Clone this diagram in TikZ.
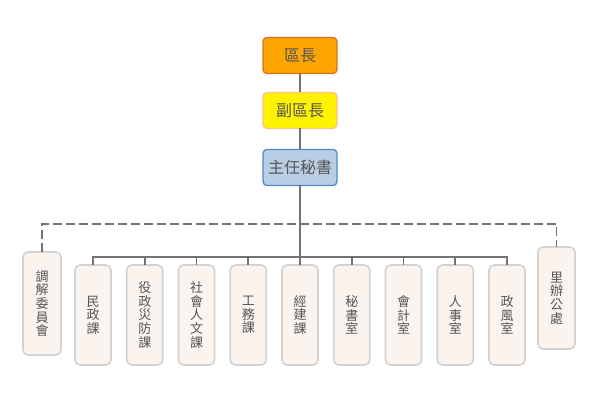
\documentclass[tikz,border=0pt]{standalone}
\usepackage{fontspec}
\usepackage{xcolor}
\usepackage{tikz}
\usetikzlibrary{positioning}
\newfontfamily\cjkfont{Noto Sans CJK TC}
\definecolor{chieforange}{HTML}{FFA502}
\definecolor{chiefedge}{HTML}{D8711C}
\definecolor{deputyyellow}{HTML}{FFF200}
\definecolor{deputyedge}{HTML}{F7C48E}
\definecolor{secblue}{HTML}{B9CDE5}
\definecolor{secedge}{HTML}{4E88CC}
\definecolor{unitfill}{HTML}{FBF3EE}
\definecolor{unitedge}{HTML}{D3D3D3}
\definecolor{linegray}{HTML}{727272}
\definecolor{textgray}{HTML}{555555}

\begin{document}
\begin{tikzpicture}[x=1pt, y=-1pt, font=\cjkfont, node distance=15.75pt,
    headbox/.style={rounded corners=4pt, line width=1.3pt, outer sep=0pt, minimum width=74pt, minimum height=36pt, inner sep=0pt, text=textgray, font=\cjkfont\fontsize{16}{18}\selectfont},
    unitbox/.style={fill=unitfill, draw=unitedge, line width=1.6pt, outer sep=0pt, rounded corners=5pt, minimum width=36pt, minimum height=100pt, inner sep=0pt, align=center, text=textgray, font=\cjkfont\fontsize{13}{13.6}\selectfont},
    link/.style={draw=linegray, line width=1.6pt}]
        \useasboundingbox (0,0) rectangle (600,419);

        % top chain
        \node[headbox, fill=chieforange, draw=chiefedge] (chief) at (300,55.5) {區長};
        \node[headbox, fill=deputyyellow, draw=deputyedge] (deputy) at (300,110.5) {副區長};
        \node[headbox, fill=secblue, draw=secedge] (secretary) at (300,167.5) {主任秘書};

        % units
        \node[unitbox] (minzheng) at (93,315) {民\\政\\課};
        \node[unitbox, right=of minzheng] (yizheng) {役\\政\\災\\防\\課};
        \node[unitbox, right=of yizheng] (shehui) {社\\會\\人\\文\\課};
        \node[unitbox, right=of shehui] (gongwu) {工\\務\\課};
        \node[unitbox, right=of gongwu] (jingjian) {經\\建\\課};
        \node[unitbox, right=of jingjian] (mishu) {秘\\書\\室};
        \node[unitbox, right=of mishu] (kuaiji) {會\\計\\室};
        \node[unitbox, right=of kuaiji] (renshi) {人\\事\\室};
        \node[unitbox, right=of renshi] (zhengfeng) {政\\風\\室};

        % side offices
        \node[unitbox, minimum width=38pt, minimum height=103pt] (tiaojie) at (42,303.5) {調\\解\\委\\員\\會};
        \node[unitbox, minimum width=37pt, minimum height=102pt] (libangong) at (556.5,298) {里\\辦\\公\\處};

        \coordinate (bus) at (300,257);
        \coordinate (dashlvl) at (300,224);

        \draw[link] (chief) -- (deputy);
        \draw[link] (deputy) -- (secretary);
        \draw[link] (secretary) -- (jingjian);
        \draw[link] (minzheng.north) |- (bus) -| (zhengfeng.north);
        \draw[link] (yizheng.north) -- (yizheng.north |- bus);
        \draw[link] (shehui.north) -- (shehui.north |- bus);
        \draw[link] (gongwu.north) -- (gongwu.north |- bus);
        \draw[link] (mishu.north) -- (mishu.north |- bus);
        \draw[link] (kuaiji.north) -- (kuaiji.north |- bus);
        \draw[link] (renshi.north) -- (renshi.north |- bus);
        \draw[link, dash pattern=on 9pt off 4pt] (tiaojie.north) |- (dashlvl) -| (libangong.north);
    \end{tikzpicture}
\end{document}
